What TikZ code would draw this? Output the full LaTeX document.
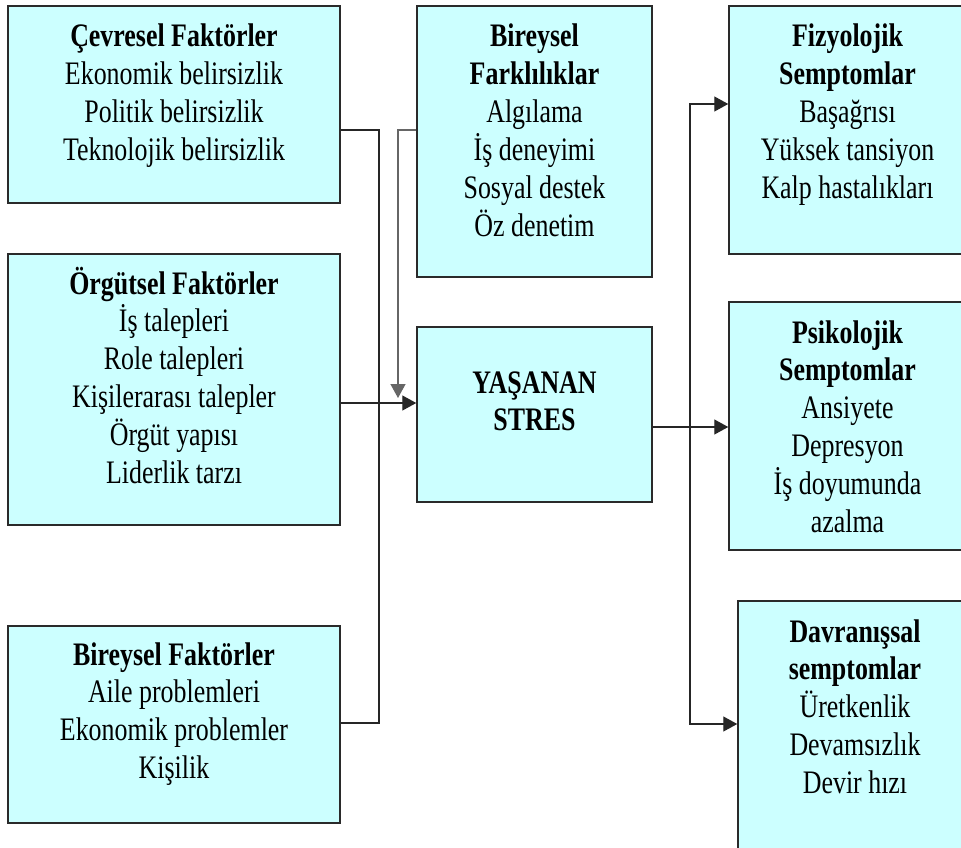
\documentclass[tikz,border=0pt]{standalone}
\usepackage{fontspec}
\setmainfont{Liberation Serif}[FakeStretch=0.79]
\usetikzlibrary{arrows.meta}
\definecolor{boxfill}{HTML}{CCFFFF}
\definecolor{boxline}{HTML}{2A2A2A}
\tikzset{
  box/.style={draw=boxline, fill=boxfill, line width=1.5pt, inner sep=0pt, rectangle},
  txt/.style={anchor=base, inner sep=0pt, text=black},
  conn/.style={draw=black!85, line width=1.3pt},
  tip/.style={-{Triangle[length=14pt,width=15pt]}},
  arr/.style={conn, tip}
}
\newcommand{\bt}[2]{\parbox[t]{#1pt}{\centering\fontsize{32.8}{37.9}\selectfont #2}}
\begin{document}
\begin{tikzpicture}[x=1pt,y=-1pt]
\useasboundingbox (0,0) rectangle (961,848);
% boxes
\node[box, minimum width=332pt, minimum height=197pt] (cev) at (174,104.5) {};
\node[box, minimum width=332pt, minimum height=271pt] (org) at (174,389.5) {};
\node[box, minimum width=332pt, minimum height=197pt] (bf) at (174,724.5) {};
\node[box, minimum width=235pt, minimum height=271pt] (far) at (534.5,141.5) {};
\node[box, minimum width=235pt, minimum height=175pt] (str) at (534.5,414.5) {};
\node[box, minimum width=237pt, minimum height=248pt] (fiz) at (847.5,130) {};
\node[box, minimum width=237pt, minimum height=248pt] (psi) at (847.5,426) {};
\node[box, minimum width=234pt, minimum height=269pt] (dav) at (855,735.5) {};
% texts
\node[txt] (cevT) at (174,47) {\bt{320}{\textbf{Çevresel Faktörler}\\Ekonomik belirsizlik\\Politik belirsizlik\\Teknolojik belirsizlik}};
\node[txt] (orgT) at (174,294) {\bt{320}{\textbf{Örgütsel Faktörler}\\İş talepleri\\Role talepleri\\Kişilerarası talepler\\Örgüt yapısı\\Liderlik tarzı}};
\node[txt] (bfT) at (174,665) {\bt{320}{\textbf{Bireysel Faktörler}\\Aile problemleri\\Ekonomik problemler\\Kişilik}};
\node[txt] (farT) at (534.5,47) {\bt{225}{\textbf{Bireysel}\\\textbf{Farklılıklar}\\Algılama\\İş deneyimi\\Sosyal destek\\Öz denetim}};
\node[txt] (strT) at (534.5,393) {\bt{225}{\textbf{YAŞANAN}\\\textbf{STRES}}};
\node[txt] (fizT) at (847.5,47) {\bt{225}{\textbf{Fizyolojik}\\\textbf{Semptomlar}\\Başağrısı\\Yüksek tansiyon\\Kalp hastalıkları}};
\node[txt] (psiT) at (847.5,343) {\bt{225}{\textbf{Psikolojik}\\\textbf{Semptomlar}\\Ansiyete\\Depresyon\\İş doyumunda\\azalma}};
\node[txt] (davT) at (855,642) {\bt{225}{\textbf{Davranışsal}\\\textbf{semptomlar}\\Üretkenlik\\Devamsızlık\\Devir hızı}};
% junctions
\coordinate (J) at (379,403);
\coordinate (F) at (398,398);
\coordinate (K) at (690,427);
% left connectors
\draw[conn] (cev.east |- 0,130) -| (J);
\draw[conn] (bf.east |- 0,723) -| (J);
\draw[arr] (org.east |- J) -- (str.west |- J);
\draw[draw=black!60, line width=1.3pt, tip] (far.west |- 0,130) -| (F);
% right connectors
\draw[arr] (str.east |- K) -- (psi.west |- K);
\draw[arr] (K) |- (fiz.west |- 0,104);
\draw[arr] (K) |- (dav.west |- 0,724);
\end{tikzpicture}
\end{document}
